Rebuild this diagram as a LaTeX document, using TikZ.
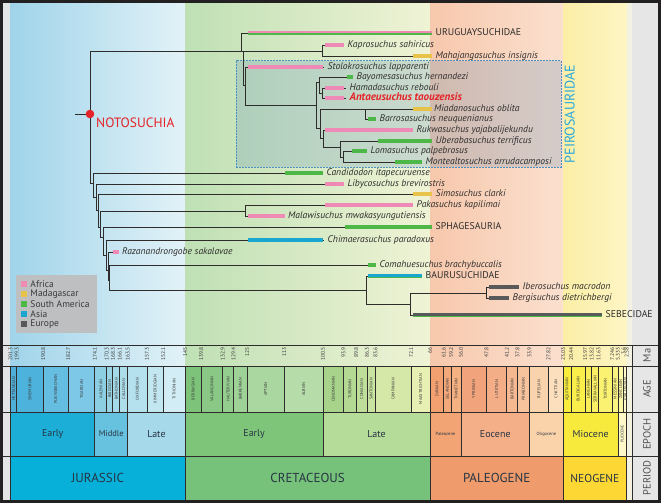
\documentclass[tikz,border=0pt]{standalone}
\usepackage{fontspec}
\setmainfont{PT Sans}
\usetikzlibrary{positioning,fit}

\definecolor{africa}{HTML}{EE8AB5}
\definecolor{madagascar}{HTML}{E8C34A}
\definecolor{samerica}{HTML}{4DB748}
\definecolor{asia}{HTML}{1AA7CF}
\definecolor{europe}{HTML}{58595B}
\definecolor{inkdark}{HTML}{2E2D2C}
\definecolor{legink}{HTML}{3A3A3C}
\definecolor{stageink}{HTML}{3C3C3C}
\definecolor{periodink}{HTML}{283544}
\definecolor{rowink}{HTML}{505050}
\definecolor{notored}{HTML}{E52328}
\definecolor{peiroblue}{HTML}{2AA8DE}
\definecolor{peirofill}{HTML}{5C8FBA}
\definecolor{peirodash}{HTML}{4A8FC0}
\definecolor{jurL}{HTML}{A0D4EA}
\definecolor{jurR}{HTML}{E2F2F7}
\definecolor{creL}{HTML}{BFE0B5}
\definecolor{creR}{HTML}{EFF3D5}
\definecolor{palL}{HTML}{F7C8AC}
\definecolor{palR}{HTML}{FBE0CF}
\definecolor{neoL}{HTML}{FBEEA6}
\definecolor{neoR}{HTML}{FDF5C4}
\definecolor{quat}{HTML}{F3F1E1}
\definecolor{sidegray}{HTML}{E3E4E5}
\definecolor{colgray}{HTML}{E6E6E6}
\definecolor{leggray}{HTML}{BEBFC1}
\definecolor{framecol}{HTML}{232021}
\definecolor{eEJ}{HTML}{1DAED8}
\definecolor{eMJ}{HTML}{67C2DF}
\definecolor{eLJ}{HTML}{A6DAEB}
\definecolor{eEK}{HTML}{7EC57A}
\definecolor{eLK}{HTML}{B6DC9A}
\definecolor{ePc}{HTML}{F2A474}
\definecolor{eEo}{HTML}{F4AF88}
\definecolor{eOl}{HTML}{FBD3AB}
\definecolor{eMi}{HTML}{F8EA3C}
\definecolor{ePl}{HTML}{FEF8C8}
\definecolor{pJ}{HTML}{06B0D9}
\definecolor{pK}{HTML}{77C27B}
\definecolor{pPg}{HTML}{EF9B6B}
\definecolor{pNg}{HTML}{FDD734}

\tikzset{
  branch/.style={draw=inkdark, line width=0.9pt},
  rangebar/.style={line width=3.3pt},
  halfbar/.style={line width=2.2pt},
  taxon/.style={anchor=west, inner xsep=3.5pt, inner ysep=0pt, text height=6.5pt, text depth=2pt, font=\fontsize{9.6}{11}\selectfont\itshape, text=inkdark},
  clade/.style={taxon, font=\fontsize{9.8}{11}\selectfont},
  legsq/.style={minimum size=6.6pt, inner sep=0pt},
  legtext/.style={inner xsep=2pt, inner ysep=0pt, font=\fontsize{9.5}{10}\selectfont, text=legink},
  tsline/.style={draw=inkdark, line width=0.9pt},
  stagetext/.style={rotate=90, inner sep=0pt, font=\fontsize{4.2}{5}\selectfont, text=stageink},
  matick/.style={rotate=90, anchor=east, inner sep=0pt, font=\fontsize{5.5}{6}\selectfont, text=stageink},
  epochtext/.style={font=\fontsize{10}{12}\selectfont, text=periodink},
  periodtext/.style={font=\fontsize{13}{15}\selectfont, text=periodink},
  rowtext/.style={rotate=90, font=\fontsize{10.5}{12}\selectfont, text=rowink},
}

% one stage of the age row, with the age of its older boundary
\newcommand{\agebox}[4]{%
  \definecolor{agefill}{HTML}{#3}%
  \draw[tsline, fill=agefill] (#1,366) rectangle (#2,412);
  \node[stagetext] at ({(#1+#2)/2},389) {#4};
  \node[matick] at (#1,347.5) {#1};
}

\begin{document}
\begin{tikzpicture}[x=1pt,y=-1pt]
\useasboundingbox (0,0) rectangle (661,503);
\fill[sidegray] (0,0) rectangle (661,503);

% period colours behind the tree
\begin{scope}[x=-3.1pt, xshift=634.6pt]
\shade[left color=jurL, right color=jurR] (201.3,2) rectangle (145,366);
\shade[left color=creL, right color=creR] (145,2) rectangle (66,366);
\shade[left color=palL, right color=palR] (66,2) rectangle (23.03,366);
\shade[left color=neoL, right color=neoR] (23.03,2) rectangle (2.58,366);
\fill[quat] (2.58,2) rectangle (0.84,500);
\end{scope}
\fill[colgray] (632,2) rectangle (659,500);

% legend
\coordinate (lg1) at (16,275);
\coordinate (lg2) at (97,333);
\node[fit=(lg1)(lg2), inner sep=0pt, fill=leggray] (legend) {};
\node[legsq, fill=africa] (leg_af) at (24,284) {};
\node[legtext, right=0.8pt of leg_af] {Africa};
\node[legsq, fill=madagascar] (leg_ma) at (24,294) {};
\node[legtext, right=0.8pt of leg_ma] {Madagascar};
\node[legsq, fill=samerica] (leg_sa) at (24,304) {};
\node[legtext, right=0.8pt of leg_sa] {South America};
\node[legsq, fill=asia] (leg_as) at (24,314) {};
\node[legtext, right=0.8pt of leg_as] {Asia};
\node[legsq, fill=europe] (leg_eu) at (24,324) {};
\node[legtext, right=0.8pt of leg_eu] {Europe};

% peirosaurid box
\coordinate (pb1) at (236,61);
\coordinate (pb2) at (561,167);
\node[fit=(pb1)(pb2), inner sep=0pt, draw=peirodash, line width=1pt, dash pattern=on 1.6pt off 1.4pt, fill=peirofill, fill opacity=0.24] (peiro) {};
\node[rotate=90, anchor=north, inner sep=0pt, font=\fontsize{14}{16}\selectfont, text=peiroblue] (peiro_lab) at ([xshift=3pt]peiro.east) {PEIROSAURIDAE};

% inner nodes of the tree
\coordinate (stem) at (75,114);
\coordinate (root) at (90,114);
\coordinate (nA) at (241,51);
\coordinate (nB) at (243,51);
\coordinate (nM) at (322,51);
\coordinate (nC) at (245.7,85);
\coordinate (nD) at (316,105);
\coordinate (nE) at (319,82);
\coordinate (nG) at (322,93);
\coordinate (nF) at (320,128);
\coordinate (nH) at (365,109);
\coordinate (nJ) at (323,138);
\coordinate (nK) at (340,147);
\coordinate (nL) at (343,157);
\coordinate (nL1) at (93,183);
\coordinate (nL2) at (96,197);
\coordinate (nL3) at (98,210);
\coordinate (nL4) at (100.7,227);
\coordinate (nPM) at (245,211);
\coordinate (nL5) at (103,237);
\coordinate (nL6) at (106,255);
\coordinate (nL7) at (108,270);
\coordinate (nL8) at (109.5,280);
\coordinate (nN) at (366,290);
\coordinate (nO) at (410,304);
\coordinate (nP) at (486,293);

% tips: label at the end of the range bar
\node[clade] (uru) at (432,33) {URUGUAYSUCHIDAE};
\node[taxon] (kapro) at (344,45) {Kaprosuchus sahiricus};
\node[taxon] (mahaj) at (432,56) {Mahajangasuchus insignis};
\node[taxon, xshift=1pt] (stolo) at (323,67) {Stolokrosuchus lapparenti};
\node[taxon] (bayo) at (353,77) {Bayomesasuchus hernandezi};
\node[taxon, xshift=2pt] (hamad) at (344,88) {Hamadasuchus rebouli};
\node[taxon, xshift=2pt, font=\fontsize{11}{12}\selectfont\bfseries\itshape, text=notored] (antae) at (344,98) {Antaeusuchus taouzensis};
\node[taxon, xshift=-1.5pt] (miad) at (432,109) {Miadanosuchus oblita};
\node[taxon] (barro) at (376,119) {Barrosasuchus neuquenianus};
\node[taxon] (rukwa) at (413,130) {Rukwasuchus yajabalijekundu};
\node[taxon] (ubera) at (432,141) {Uberabasuchus terrificus};
\node[taxon] (loma) at (367,151) {Lomasuchus palpebrosus};
\node[taxon] (monte) at (422,162) {Montealtosuchus arrudacamposi};
\node[taxon] (candi) at (323,173) {Candidodon itapecuruense};
\node[taxon] (libyco) at (344,184) {Libycosuchus brevirostris};
\node[taxon] (simo) at (432,194) {Simosuchus clarki};
\node[taxon] (paka) at (413,205) {Pakasuchus kapilimai};
\node[taxon, xshift=-0.5pt] (malaw) at (285,216) {Malawisuchus mwakasyungutiensis};
\node[clade] (sphag) at (432,227) {SPHAGESAURIA};
\node[taxon, xshift=1pt] (chim) at (323,240) {Chimaerasuchus paradoxus};
\node[taxon, xshift=-0.5pt] (razan) at (119,252) {Razanandrongobe sakalavae};
\node[taxon] (comah) at (376,265) {Comahuesuchus brachybuccalis};
\node[clade] (bauru) at (422,276) {BAURUSUCHIDAE};
\node[taxon] (ibero) at (519,287) {Iberosuchus macrodon};
\node[taxon] (bergi) at (509,298) {Bergisuchus dietrichbergi};
\node[clade] (sebec) at (602,315) {SEBECIDAE};

\coordinate (uru_s) at (248,33);
\coordinate (kapro_s) at (325,45);
\coordinate (mahaj_s) at (413,56);
\coordinate (stolo_s) at (248,67);
\coordinate (bayo_s) at (347,77);
\coordinate (hamad_s) at (325,88);
\coordinate (antae_s) at (325,98);
\coordinate (miad_s) at (413,109);
\coordinate (barro_s) at (368,119);
\coordinate (rukwa_s) at (325,130);
\coordinate (ubera_s) at (378,141);
\coordinate (loma_s) at (352,151);
\coordinate (monte_s) at (395,162);
\coordinate (candi_s) at (285,173);
\coordinate (libyco_s) at (325,184);
\coordinate (simo_s) at (413,194);
\coordinate (paka_s) at (325,205);
\coordinate (malaw_s) at (248,216);
\coordinate (sphag_s) at (345,227);
\coordinate (chim_s) at (248,240);
\coordinate (razan_s) at (113,252);
\coordinate (comah_s) at (368,265);
\coordinate (bauru_s) at (368,276);
\coordinate (ibero_s) at (489,287);
\coordinate (bergi_s) at (489,298);
\coordinate (sebec_s) at (413,315);

% branches
\draw[branch] (stem) -- (root);
\draw[branch] (root) |- (nA);
\draw[branch] (root) |- (nL1);
\draw[branch] (nA) |- (uru.west);
\draw[branch] (nA) |- (nB);
\draw[branch] (nB) |- (nM);
\draw[branch] (nB) |- (nC);
\draw[branch] (nM) |- (kapro.west);
\draw[branch] (nM) |- (mahaj.west);
\draw[branch] (nC) |- (stolo.west);
\draw[branch] (nC) |- (nD);
\draw[branch] (nD) |- (nE);
\draw[branch] (nD) |- (nF);
\draw[branch] (nE) |- (bayo.west);
\draw[branch] (nE) |- (nG);
\draw[branch] (nG) |- (hamad.west);
\draw[branch] (nG) |- (antae.west);
\draw[branch] (nF) |- (nH);
\draw[branch] (nF) |- (nJ);
\draw[branch] (nH) |- (miad.west);
\draw[branch] (nH) |- (barro.west);
\draw[branch] (nJ) |- (rukwa.west);
\draw[branch] (nJ) |- (nK);
\draw[branch] (nK) |- (ubera.west);
\draw[branch] (nK) |- (nL);
\draw[branch] (nL) |- (loma.west);
\draw[branch] (nL) |- (monte.west);
\draw[branch] (nL1) |- (candi.west);
\draw[branch] (nL1) |- (nL2);
\draw[branch] (nL2) |- (libyco.west);
\draw[branch] (nL2) |- (nL3);
\draw[branch] (nL3) |- (simo.west);
\draw[branch] (nL3) |- (nL4);
\draw[branch] (nL4) |- (nPM);
\draw[branch] (nL4) |- (nL5);
\draw[branch] (nPM) |- (paka.west);
\draw[branch] (nPM) |- (malaw.west);
\draw[branch] (nL5) |- (sphag.west);
\draw[branch] (nL5) |- (nL6);
\draw[branch] (nL6) |- (chim.west);
\draw[branch] (nL6) |- (nL7);
\draw[branch] (nL7) |- (razan.west);
\draw[branch] (nL7) |- (nL8);
\draw[branch] (nL8) |- (comah.west);
\draw[branch] (nL8) |- (nN);
\draw[branch] (nN) |- (bauru.west);
\draw[branch] (nN) |- (nO);
\draw[branch] (nO) |- (nP);
\draw[branch] (nO) |- (sebec.west);
\draw[branch] (nP) |- (ibero.west);
\draw[branch] (nP) |- (bergi.west);

% range bars
\draw[halfbar, africa] ([yshift=1.1pt]uru_s) -- ([yshift=1.1pt]uru.west);
\draw[halfbar, samerica] ([yshift=-1.1pt]uru_s) -- ([yshift=-1.1pt]uru.west);
\draw[rangebar, africa] (kapro_s) -- (kapro.west);
\draw[rangebar, madagascar] (mahaj_s) -- (mahaj.west);
\draw[rangebar, africa] (stolo_s) -- ([xshift=-1pt]stolo.west);
\draw[rangebar, samerica] (bayo_s) -- (bayo.west);
\draw[rangebar, africa] (hamad_s) -- ([xshift=-2pt]hamad.west);
\draw[rangebar, africa] (antae_s) -- ([xshift=-2pt]antae.west);
\draw[rangebar, madagascar] (miad_s) -- ([xshift=1.5pt]miad.west);
\draw[rangebar, samerica] (barro_s) -- (barro.west);
\draw[rangebar, africa] (rukwa_s) -- (rukwa.west);
\draw[rangebar, samerica] (ubera_s) -- (ubera.west);
\draw[rangebar, samerica] (loma_s) -- (loma.west);
\draw[rangebar, samerica] (monte_s) -- (monte.west);
\draw[rangebar, samerica] (candi_s) -- (candi.west);
\draw[rangebar, africa] (libyco_s) -- (libyco.west);
\draw[rangebar, madagascar] (simo_s) -- (simo.west);
\draw[rangebar, africa] (paka_s) -- (paka.west);
\draw[rangebar, africa] (malaw_s) -- ([xshift=0.5pt]malaw.west);
\draw[rangebar, samerica] (sphag_s) -- (sphag.west);
\draw[rangebar, asia] (chim_s) -- ([xshift=-1pt]chim.west);
\draw[rangebar, africa] (razan_s) -- ([xshift=0.5pt]razan.west);
\draw[rangebar, samerica] (comah_s) -- (comah.west);
\draw[halfbar, line width=2.8pt, asia] ([yshift=0.6pt]bauru_s) -- ([yshift=0.6pt]bauru.west);
\draw[halfbar, line width=1.4pt, samerica] ([yshift=-1.6pt]bauru_s) -- ([yshift=-1.6pt]bauru.west);
\draw[rangebar, europe] (ibero_s) -- (ibero.west);
\draw[rangebar, europe] (bergi_s) -- (bergi.west);
\draw[halfbar, line width=2.6pt, europe] ([yshift=0.7pt]sebec_s) -- ([yshift=0.7pt]sebec.west);
\draw[halfbar, line width=1.5pt, samerica] ([yshift=-1.5pt]sebec_s) -- ([yshift=-1.5pt]sebec.west);

% notosuchia node
\node[circle, fill=notored, minimum size=8.6pt, inner sep=0pt] (rootdot) at (root) {};
\node[anchor=north west, inner sep=0pt, font=\fontsize{13.5}{15}\selectfont, text=notored] (noto) at ([xshift=6pt,yshift=-3.5pt]root) {NOTOSUCHIA};

% time scale
\begin{scope}[x=-3.1pt, xshift=634.6pt]
\agebox{201.3}{199.3}{4FAFD9}{HETTANGIAN}
\agebox{199.3}{190.8}{4DB3DC}{SINEMURIAN}
\agebox{190.8}{182.7}{65BEE2}{PLIENSBACHIAN}
\agebox{182.7}{174.1}{7CC8E6}{TOARCIAN}
\agebox{174.1}{170.3}{8CCFE3}{AALENIAN}
\agebox{170.3}{168.3}{98D4E6}{BAJOCIAN}
\agebox{168.3}{166.1}{A3D9E8}{BATHONIAN}
\agebox{166.1}{163.5}{AEDDEA}{CALLOVIAN}
\agebox{163.5}{157.3}{B5E1EE}{OXFORDIAN}
\agebox{157.3}{152.1}{C3E7F1}{KIMMERIDGIAN}
\agebox{152.1}{145}{D2EDF5}{TITHONIAN}
\agebox{145}{139.8}{7DC47A}{BERRIASIAN}
\agebox{139.8}{132.9}{89C985}{VALANGINIAN}
\agebox{132.9}{129.4}{94CE8E}{HAUTERIVIAN}
\agebox{129.4}{125}{9ED297}{BARREMIAN}
\agebox{125}{113}{AAD7A0}{APTIAN}
\agebox{113}{100.5}{B6DCAA}{ALBIAN}
\agebox{100.5}{93.9}{A7D38A}{CENOMANIAN}
\agebox{93.9}{89.8}{B3D993}{TURONIAN}
\agebox{89.8}{86.3}{BFDE9A}{CONIACIAN}
\agebox{86.3}{83.6}{C9E3A0}{SANTONIAN}
\agebox{83.6}{72.1}{D5E8A8}{CAMPANIAN}
\agebox{72.1}{66}{E7EFB3}{MAASTRICHTIAN}
\agebox{66}{61.6}{F2A070}{DANIAN}
\agebox{61.6}{59.2}{F4A87A}{SELANDIAN}
\agebox{59.2}{56.0}{F6B182}{THANETIAN}
\agebox{56.0}{47.8}{F1A37B}{YPRESIAN}
\agebox{47.8}{41.2}{F3AE87}{LUTETIAN}
\agebox{41.2}{37.8}{F5B891}{BARTONIAN}
\agebox{37.8}{33.9}{F7C39D}{PRIABONIAN}
\agebox{33.9}{27.82}{F9D3AC}{RUPELIAN}
\agebox{27.82}{23.03}{FCE0BD}{CHATTIAN}
\agebox{23.03}{20.44}{F9EC3C}{AQUITANIAN}
\agebox{20.44}{15.97}{FAEE4A}{BURDIGALIAN}
\agebox{15.97}{13.82}{FAEF57}{LANGHIAN}
\agebox{13.82}{11.63}{FBF064}{SERRAVALLIAN}
\agebox{11.63}{7.246}{FBF271}{TORTONIAN}
\agebox{7.246}{5.333}{FCF480}{MESSINIAN}
\agebox{5.333}{3.6}{FDF7A8}{ZANCLEAN}
\agebox{3.6}{2.58}{FEF9C6}{PIACENZIAN}
\node[matick] at (2.58,347.5) {2.58};

\draw[tsline, fill=eEJ] (201.3,412) rectangle (174.1,456);
\node[epochtext] at (187.7,434) {Early};
\draw[tsline, fill=eMJ] (174.1,412) rectangle (163.5,456);
\node[epochtext, font=\fontsize{8.5}{10}\selectfont] at (168.8,434) {Middle};
\draw[tsline, fill=eLJ] (163.5,412) rectangle (145,456);
\node[epochtext] at (154.25,434) {Late};
\draw[tsline, fill=eEK] (145,412) rectangle (100.5,456);
\node[epochtext] at (122.75,434) {Early};
\draw[tsline, fill=eLK] (100.5,412) rectangle (66,456);
\node[epochtext] at (83.25,434) {Late};
\draw[tsline, fill=ePc] (66,412) rectangle (56,456);
\node[epochtext, font=\fontsize{4.5}{5}\selectfont] at (61,434) {Paleocene};
\draw[tsline, fill=eEo] (56,412) rectangle (33.9,456);
\node[epochtext] at (44.95,434) {Eocene};
\draw[tsline, fill=eOl] (33.9,412) rectangle (23.03,456);
\node[epochtext, font=\fontsize{4.5}{5}\selectfont] at (28.47,434) {Oligocene};
\draw[tsline, fill=eMi] (23.03,412) rectangle (5.333,456);
\node[epochtext] at (14.18,434) {Miocene};
\draw[tsline, fill=ePl] (5.333,412) rectangle (2.58,456);
\node[epochtext, rotate=90, font=\fontsize{4}{5}\selectfont] at (3.96,434) {PLIOCENE};

\draw[tsline, fill=pJ] (201.3,456) rectangle (145,500);
\node[periodtext] at (173.15,478) {JURASSIC};
\draw[tsline, fill=pK] (145,456) rectangle (66,500);
\node[periodtext] at (105.5,478) {CRETACEOUS};
\draw[tsline, fill=pPg] (66,456) rectangle (23.03,500);
\node[periodtext] at (44.5,478) {PALEOGENE};
\draw[tsline, fill=pNg] (23.03,456) rectangle (2.58,500);
\node[periodtext, font=\fontsize{11.5}{13}\selectfont] at (12.8,478) {NEOGENE};
\end{scope}

\draw[tsline] (2,345) -- (659,345);
\draw[tsline] (2,366) -- (659,366);
\draw[tsline] (2,412) -- (659,412);
\draw[tsline] (2,456) -- (659,456);
\draw[tsline] (632,345) -- (632,500);
\node[rowtext] at (647,355.5) {Ma};
\node[rowtext] at (647,389) {AGE};
\node[rowtext] at (647,434) {EPOCH};
\node[rowtext] at (647,478) {PERIOD};

\draw[framecol, line width=2.6pt] (1.3,1.3) rectangle (659.7,501.7);
\end{tikzpicture}
\end{document}
